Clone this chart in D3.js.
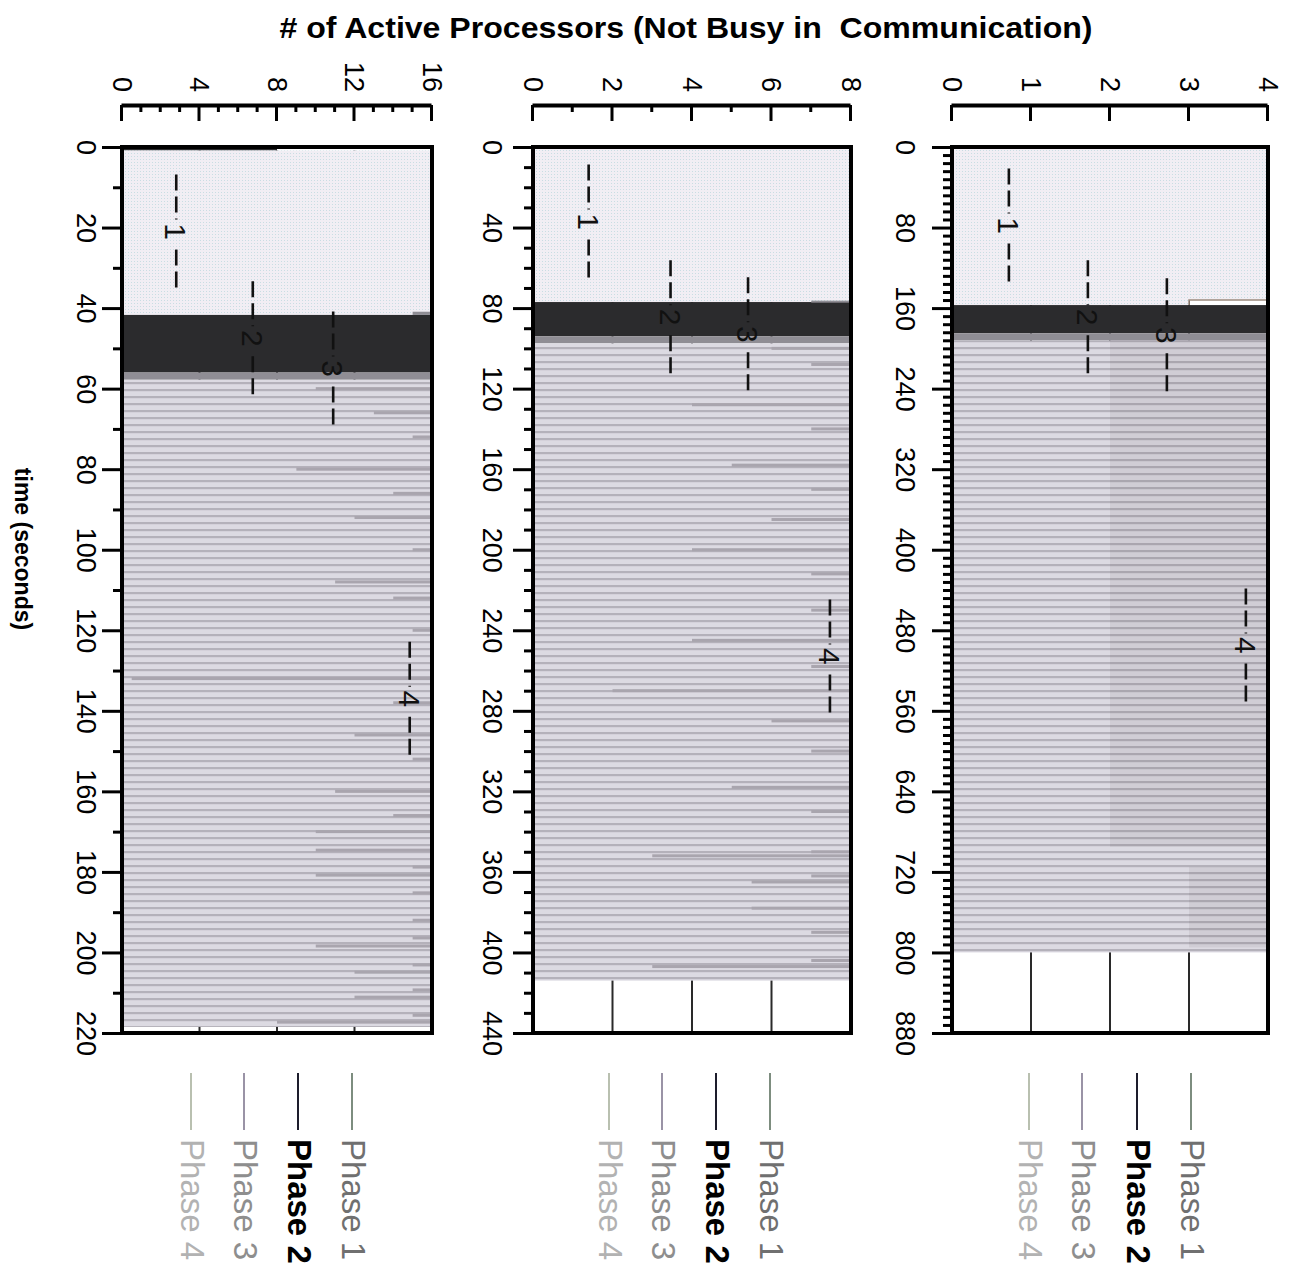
<!DOCTYPE html>
<html><head><meta charset="utf-8">
<script src="https://cdn.jsdelivr.net/npm/d3@7"></script>
<style>
body{margin:0;background:#fff;}
svg{display:block;font-family:"Liberation Sans",Arial,sans-serif;}
</style></head><body>
<svg id="chart" width="1293" height="1282"></svg>
<script>
// ---------------- data ----------------
const panelNames = ["4 processors", "8 processors", "16 processors"];
const procMax = [4, 8, 16];
const timeMax = [880, 440, 220];
const timeMajorStep = [80, 40, 20];
const timeMinorStep = [8, 10, 10];
const procMajorStep = [1, 2, 4];
const procMinorStep = [1, 1, 1];
const runEnd = [800, 414, 218.5];

// top of phase 1 area: [time, active processors]
const phase1Top4 = [[0, 4], [152, 3], [157, 3]];
const phase1Top8 = [[0, 8], [77, 8]];
const phase1Top16 = [[0.8, 16], [41.7, 16]];
const phase1Tops = [phase1Top4, phase1Top8, phase1Top16];

const phase2Start = [157, 77, 41.7];
const phase2End = [185, 94, 56];
const phase3End = [192, 97.5, 57.8];

// phase-3 bands still running on upper processors: [t0, t1, fromProc]
const lateBands4 = [[192, 695, 2], [715, 795, 3]];
const lateBands8 = [];
const lateBands16 = [];
const lateBands = [lateBands4, lateBands8, lateBands16];

// dips of active processors at iteration boundaries: [time, active count]
const dips4 = [];
const dips8 = [[100, 6], [108, 7], [128, 4], [140, 7], [158, 5], [170, 7], [185, 6], [200, 4], [212, 7], [230, 7], [245, 4], [258, 7], [270, 2], [285, 6], [300, 7], [318, 5], [330, 7], [350, 7], [352, 3], [362, 7], [365, 5.5], [378, 5.5], [390, 7], [404, 7], [407, 3]];
const dips16 = [[60, 10], [66, 13], [72, 15], [80, 9], [86, 14], [92, 12], [100, 15], [108, 11], [112, 14], [120, 15], [132, 0.5], [138, 14], [146, 12], [152, 15], [160, 11], [166, 14], [170, 10], [174.6, 10], [178.8, 15], [180.8, 10], [185.2, 15], [192, 15], [196.4, 15], [198.4, 10], [203.1, 15], [204.9, 12], [209.3, 15], [211.1, 12], [215.6, 15], [217.3, 8]];
const dips = [dips4, dips8, dips16];

// small early starts: [t0, t1, p0, p1, phase]
const blips4 = [];
const blips8 = [[76.3, 77, 7, 8, "p3"]];
const blips16 = [[0, 0.8, 0, 8, "p2"], [0, 0.8, 8, 16, "bg"], [40.9, 41.7, 15, 16, "p3"]];
const blips = [blips4, blips8, blips16];

// phase annotations
const annotLabels = ["1", "2", "3", "4"];
const annotTime = [[78, 169, 187, 495], [37, 84.5, 93, 253], [21, 47.5, 55, 137]];
const annotProc = [[0.72, 1.72, 2.72, 3.72], [1.4, 3.46, 5.41, 7.47], [2.8, 6.75, 10.9, 14.85]];

const legendLabels = ["Phase 1", "Phase 2", "Phase 3", "Phase 4"];

const titleText = "# of Active Processors (Not Busy in  Communication)";
const xTitleText = "time (seconds)";

// ---------------- layout / style ----------------
const W = 1293, H = 1282;
const procPix = [[952, 1268], [533, 851], [122, 432]]; // screen x for proc 0 .. max
const timePix = [147, 1033];                             // screen y for time 0 .. max
const timeLabelPad = [17, 11, 6];
const legendScreenX = [[1191, 1137, 1082, 1029], [770, 716, 662, 609], [352, 298, 244, 191]];
const legendLineColor = ["#7d8d7f", "#1d1d2c", "#9a93a6", "#b9c0b0"];
const legendTextColor = ["#707070", "#000000", "#8e8e8e", "#b2b2b2"];
const legendWeight = ["normal", "bold", "normal", "normal"];
const phaseColor = {p1: "#eeecf2", p2: "#2b2b2d", p3: "#8f8d94", bg: "#ffffff"};

const svg = d3.select("#chart");
svg.append("rect").attr("width", W).attr("height", H).attr("fill", "#fff");
const defs = svg.append("defs");
function stripePattern(id, base, line) {
  const p = defs.append("pattern").attr("id", id).attr("patternUnits", "userSpaceOnUse")
    .attr("width", 7).attr("height", 10);
  p.append("rect").attr("width", 7).attr("height", 10).attr("fill", base);
  p.append("rect").attr("x", 4).attr("width", 2.2).attr("height", 10).attr("fill", line);
}
stripePattern("ph4", "#dcdae2", "#b4b1ba");
stripePattern("ph3", "#d0cdd5", "#aaa6af");
{
  const p = defs.append("pattern").attr("id", "ph1").attr("patternUnits", "userSpaceOnUse")
    .attr("width", 3).attr("height", 3);
  p.append("rect").attr("width", 3).attr("height", 3).attr("fill", "#f1eef4");
  p.append("rect").attr("width", 1).attr("height", 1).attr("fill", "#c9dde3");
}

// rotated frame: local x = screen y, local y = W - screen x
const root = svg.append("g").attr("transform", `translate(${W},0) rotate(90)`);

for (let i = 0; i < 3; i++) {
  const g = root.append("g").attr("class", "panel").attr("data-name", panelNames[i]);
  const x = d3.scaleLinear().domain([0, timeMax[i]]).range(timePix);
  const y = d3.scaleLinear().domain([0, procMax[i]]).range([W - procPix[i][0], W - procPix[i][1]]);
  const majors = d3.range(0, procMax[i] + 0.001, procMajorStep[i]);

  // gridlines (behind data)
  g.append("g").selectAll("line").data(majors.filter(v => v > 0 && v < procMax[i])).join("line")
    .attr("x1", x(0)).attr("x2", x(timeMax[i])).attr("y1", d => y(d)).attr("y2", d => y(d))
    .attr("stroke", "#2a2a2a").attr("stroke-width", 2);

  // phase 1
  const area = d3.area().x(d => x(d[0])).y0(y(0)).y1(d => y(d[1])).curve(d3.curveStepAfter);
  g.append("path").datum(phase1Tops[i]).attr("d", area).attr("fill", "url(#ph1)");
  g.append("path").datum(phase1Tops[i])
    .attr("d", d3.line().x(d => x(d[0])).y(d => y(d[1])).curve(d3.curveStepAfter))
    .attr("fill", "none").attr("stroke", "#9c8b7e").attr("stroke-width", 1.5);

  // phase 2
  g.append("rect").attr("x", x(phase2Start[i])).attr("width", x(phase2End[i]) - x(phase2Start[i]))
    .attr("y", y(procMax[i])).attr("height", y(0) - y(procMax[i])).attr("fill", phaseColor.p2);
  // phase 3 transition
  g.append("rect").attr("x", x(phase2End[i])).attr("width", x(phase3End[i]) - x(phase2End[i]))
    .attr("y", y(procMax[i])).attr("height", y(0) - y(procMax[i])).attr("fill", phaseColor.p3);
  // phase 4
  g.append("rect").attr("x", x(phase3End[i])).attr("width", x(runEnd[i]) - x(phase3End[i]))
    .attr("y", y(procMax[i])).attr("height", y(0) - y(procMax[i])).attr("fill", "url(#ph4)");
  // late bands
  g.append("g").selectAll("rect").data(lateBands[i]).join("rect")
    .attr("x", d => x(d[0])).attr("width", d => x(d[1]) - x(d[0]))
    .attr("y", y(procMax[i])).attr("height", d => y(d[2]) - y(procMax[i])).attr("fill", "url(#ph3)");
  // dips
  g.append("g").selectAll("rect").data(dips[i]).join("rect")
    .attr("x", d => x(d[0]) - 1.5).attr("width", 3)
    .attr("y", y(procMax[i])).attr("height", d => y(d[1]) - y(procMax[i])).attr("fill", "#a9a5ae");
  // blips
  g.append("g").selectAll("rect").data(blips[i]).join("rect")
    .attr("x", d => x(d[0])).attr("width", d => Math.max(2, x(d[1]) - x(d[0])))
    .attr("y", d => y(d[3])).attr("height", d => y(d[2]) - y(d[3])).attr("fill", d => phaseColor[d[4]]);

  // annotations
  const an = g.append("g").selectAll("g").data(annotLabels).join("g")
    .attr("transform", (d, k) => `translate(${x(annotTime[i][k])},${y(annotProc[i][k])})`);
  an.append("line").attr("x1", -57).attr("x2", -12).attr("y1", 0).attr("y2", 0)
    .attr("stroke", "#111").attr("stroke-width", 2.6).attr("stroke-dasharray", "16,6");
  an.append("line").attr("x1", 12).attr("x2", 57).attr("y1", 0).attr("y2", 0)
    .attr("stroke", "#111").attr("stroke-width", 2.6).attr("stroke-dasharray", "16,6").attr("stroke-dashoffset", -6);
  an.append("text").text(d => d).attr("text-anchor", "middle").attr("dy", "0.36em")
    .attr("font-size", 30).attr("fill", "#111");

  // frame
  g.append("rect").attr("x", x(0)).attr("width", x(timeMax[i]) - x(0))
    .attr("y", y(procMax[i])).attr("height", y(0) - y(procMax[i]))
    .attr("fill", "none").attr("stroke", "#000").attr("stroke-width", 4);

  // time axis (major + minor)
  const tMaj = d3.range(0, timeMax[i] + 0.001, timeMajorStep[i]);
  const tMin = d3.range(0, timeMax[i] + 0.001, timeMinorStep[i]).filter(v => Math.abs(v / timeMajorStep[i] - Math.round(v / timeMajorStep[i])) > 1e-6);
  const ta = g.append("g").attr("transform", `translate(0,${y(0) + 2})`)
    .call(d3.axisBottom(x).tickValues(tMaj).tickSize(18).tickPadding(timeLabelPad[i]).tickFormat(d3.format("d")));
  const tb = g.append("g").attr("transform", `translate(0,${y(0) + 2})`)
    .call(d3.axisBottom(x).tickValues(tMin).tickSize(7).tickFormat(""));
  [ta, tb].forEach(a => {
    a.select(".domain").remove();
    a.selectAll(".tick line").attr("stroke", "#000").attr("stroke-width", 3);
    a.attr("font-size", 27).attr("font-family", null);
    a.selectAll("text").attr("fill", "#000");
  });

  // processor axis (offset to the side)
  const pMin = d3.range(0, procMax[i] + 0.001, procMinorStep[i]).filter(v => v % procMajorStep[i] !== 0);
  const pa = g.append("g").attr("transform", "translate(105,0)")
    .call(d3.axisLeft(y).tickValues(majors).tickSizeInner(-16).tickSizeOuter(0).tickPadding(13).tickFormat(d3.format("d")));
  const pb = g.append("g").attr("transform", "translate(105,0)")
    .call(d3.axisLeft(y).tickValues(pMin).tickSizeInner(-7).tickSizeOuter(0).tickFormat(""));
  pb.select(".domain").remove();
  pa.select(".domain").attr("stroke", "#000").attr("stroke-width", 4);
  [pa, pb].forEach(a => {
    a.selectAll(".tick line").attr("stroke", "#000").attr("stroke-width", 3);
    a.attr("font-size", 27).attr("font-family", null);
    a.selectAll("text").attr("fill", "#000");
  });

  // legend
  const lg = g.append("g").selectAll("g").data(legendLabels).join("g")
    .attr("transform", (d, k) => `translate(0,${W - legendScreenX[i][k]})`);
  lg.append("line").attr("x1", 1073).attr("x2", 1130).attr("y1", 0).attr("y2", 0)
    .attr("stroke", (d, k) => legendLineColor[k]).attr("stroke-width", 2);
  lg.append("text").text(d => d).attr("x", 1139).attr("dy", "0.3em")
    .attr("font-size", 33).attr("fill", (d, k) => legendTextColor[k])
    .attr("font-weight", (d, k) => legendWeight[k]);
}

// x-axis title (time), in rotated frame
root.append("text").text(xTitleText).attr("x", 549).attr("y", W - 15)
  .attr("text-anchor", "middle").attr("font-weight", "bold").attr("font-size", 23).attr("fill", "#000");

// y-axis title (processors), horizontal on screen
svg.append("text").text(titleText).attr("x", 686).attr("y", 38)
  .attr("text-anchor", "middle").attr("font-weight", "bold").attr("font-size", 30)
  .attr("textLength", 813).attr("lengthAdjust", "spacingAndGlyphs")
  .style("white-space", "pre").attr("fill", "#000");
</script>
</body></html>
